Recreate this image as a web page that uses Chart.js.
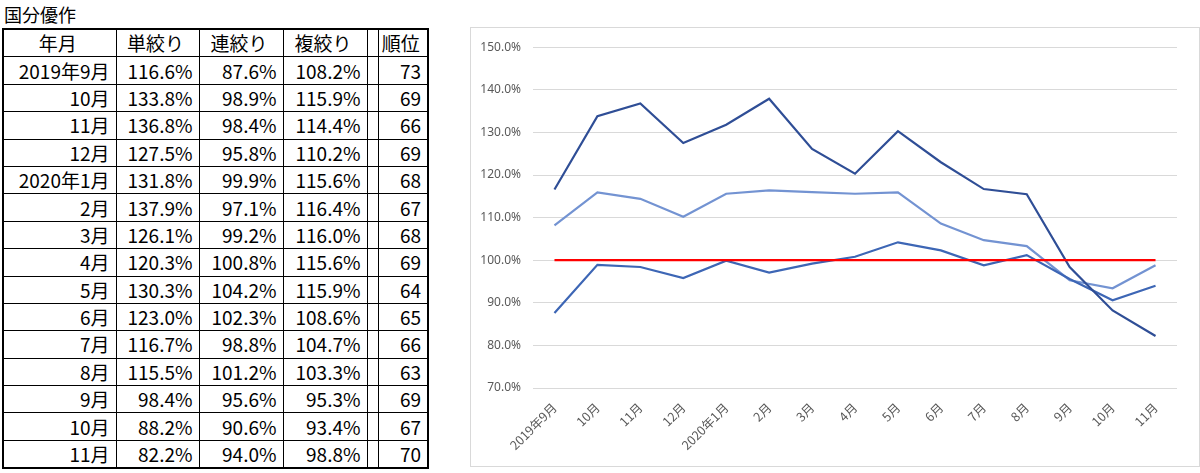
<!DOCTYPE html>
<html>
<head>
<meta charset="utf-8">
<script src="https://cdn.jsdelivr.net/npm/chart.js@4"></script>
<style>
  body { margin: 0; background: #fff; font-family: "Noto Sans CJK JP", "Noto Sans", sans-serif; }
  #title { position: absolute; left: 4px; top: 2px; font-size: 18px; line-height: 24px; color: #000; }
  #tbl { position: absolute; left: 2px; top: 28px; border-collapse: collapse; border: 2px solid #000; }
  #tbl td { border: 1px solid #000; height: 26.4px; padding: 0 6px 0 2px; font-size: 19px; line-height: 22px; text-align: right; color: #000; white-space: nowrap; }
  #tbl tr.head td { text-align: center; }
  #chartBox { position: absolute; left: 470px; top: 27px; width: 728px; height: 438px; border: 1px solid #d9d9d9; }
</style>
</head>
<body>
<div id="title">国分優作</div>
<table id="tbl">
  <colgroup>
    <col style="width:113px"><col style="width:83px"><col style="width:84px"><col style="width:84px"><col style="width:11px"><col style="width:50px">
  </colgroup>
  <tbody id="tbody"></tbody>
</table>
<div id="chartBox"><canvas id="lineChart"></canvas></div>
<script>
var rowLabels = ['2019年9月', '10月', '11月', '12月', '2020年1月', '2月', '3月', '4月', '5月', '6月', '7月', '8月', '9月', '10月', '11月'];
var tanshibori = [116.6, 133.8, 136.8, 127.5, 131.8, 137.9, 126.1, 120.3, 130.3, 123.0, 116.7, 115.5, 98.4, 88.2, 82.2];
var renshibori = [87.6, 98.9, 98.4, 95.8, 99.9, 97.1, 99.2, 100.8, 104.2, 102.3, 98.8, 101.2, 95.6, 90.6, 94.0];
var fukushibori = [108.2, 115.9, 114.4, 110.2, 115.6, 116.4, 116.0, 115.6, 115.9, 108.6, 104.7, 103.3, 95.3, 93.4, 98.8];
var juni = [73, 69, 66, 69, 68, 67, 68, 69, 64, 65, 66, 63, 69, 67, 70];
var baseline = [100, 100, 100, 100, 100, 100, 100, 100, 100, 100, 100, 100, 100, 100, 100];
var headers = ['年月', '単絞り', '連絞り', '複絞り', '', '順位'];

// table
var tbody = document.getElementById('tbody');
var html = '<tr class="head">' + headers.map(function(h) { return '<td>' + h + '</td>'; }).join('') + '</tr>';
for (var i = 0; i < rowLabels.length; i++) {
    html += '<tr><td>' + rowLabels[i] + '</td><td>' + tanshibori[i].toFixed(1) + '%</td><td>' +
        renshibori[i].toFixed(1) + '%</td><td>' + fukushibori[i].toFixed(1) + '%</td><td></td><td>' + juni[i] + '</td></tr>';
}
tbody.innerHTML = html;

// chart
var ctx = document.getElementById('lineChart').getContext('2d');
var lineChart = new Chart(ctx, {
    type: 'line',
    data: {
        labels: rowLabels,
        datasets: [{
            label: '単絞り',
            data: tanshibori,
            borderColor: '#2f4e96',
            borderWidth: 2.2,
            pointRadius: 0,
            tension: 0,
            order: 1
        }, {
            label: '連絞り',
            data: renshibori,
            borderColor: '#3d66b5',
            borderWidth: 2.2,
            pointRadius: 0,
            tension: 0,
            order: 1
        }, {
            label: '複絞り',
            data: fukushibori,
            borderColor: '#7393d2',
            borderWidth: 2.2,
            pointRadius: 0,
            tension: 0,
            order: 1
        }, {
            label: '基準',
            data: baseline,
            borderColor: '#ff0000',
            borderWidth: 2.2,
            pointRadius: 0,
            order: 0
        }]
    },
    options: {
        responsive: true,
        maintainAspectRatio: false,
        animation: false,
        layout: { padding: { left: 0, right: 22, top: 14, bottom: 0 } },
        scales: {
            x: {
                offset: true,
                grid: { display: false },
                border: { display: false },
                ticks: {
                    color: '#595959',
                    maxRotation: 45,
                    minRotation: 45,
                    autoSkip: false,
                    padding: 4,
                    font: { family: '"Noto Sans CJK JP", sans-serif', size: 12.5 }
                },
                afterFit: function(scale) { scale.height = 78; }
            },
            y: {
                min: 70,
                max: 150,
                ticks: {
                    stepSize: 10,
                    color: '#595959',
                    padding: 12,
                    font: { family: '"Noto Sans", sans-serif', size: 12 },
                    callback: function(v) { return v.toFixed(1) + '%'; }
                },
                grid: { color: '#d9d9d9', drawTicks: false },
                border: { display: false },
                afterFit: function(scale) { scale.width = 62; }
            }
        },
        plugins: {
            legend: { display: false },
            tooltip: { enabled: false }
        }
    }
});
</script>
</body>
</html>
